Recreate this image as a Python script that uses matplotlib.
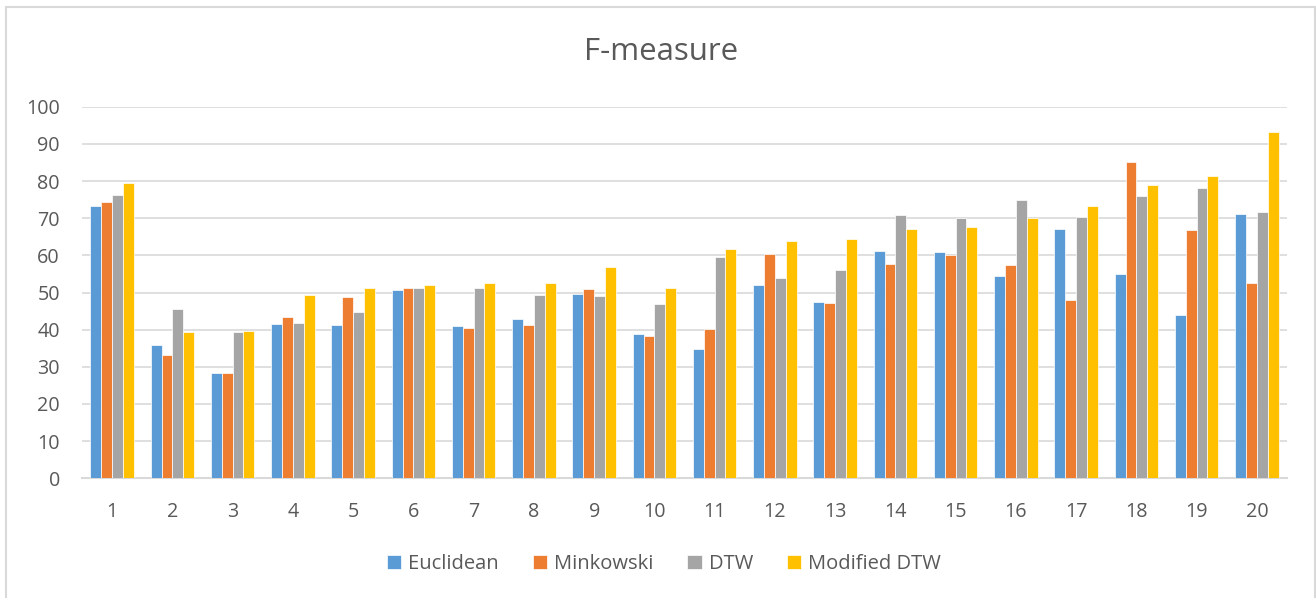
"""F-measure comparison of four distance measures over 20 cases."""

import numpy as np
import matplotlib.pyplot as plt
from matplotlib.patches import Rectangle

plt.rcParams['font.family'] = ['Open Sans', 'DejaVu Sans']

# Data
cases = [str(i) for i in range(1, 21)]
euclidean = [73.3, 35.9, 28.3, 41.4, 41.2, 50.6, 41.0, 42.8, 49.7, 38.7,
             34.8, 51.9, 47.4, 61.1, 61.0, 54.4, 67.1, 55.0, 43.9, 71.0]
minkowski = [74.3, 33.2, 28.3, 43.4, 48.8, 51.1, 40.5, 41.3, 50.9, 38.3,
             40.3, 60.3, 47.2, 57.7, 60.1, 57.5, 48.1, 85.1, 66.7, 52.6]
dtw = [76.2, 45.5, 39.3, 41.7, 44.7, 51.1, 51.1, 49.4, 49.0, 46.8,
       59.5, 53.9, 56.1, 70.9, 70.0, 74.8, 70.4, 76.1, 78.1, 71.7]
modified_dtw = [79.6, 39.4, 39.6, 49.4, 51.1, 52.1, 52.6, 52.6, 56.9, 51.1,
                61.7, 63.8, 64.4, 67.0, 67.6, 70.1, 73.2, 78.9, 81.3, 93.3]
series = {'Euclidean': euclidean, 'Minkowski': minkowski,
          'DTW': dtw, 'Modified DTW': modified_dtw}
colors = ['#5B9BD5', '#ED7D31', '#A5A5A5', '#FFC000']
text_color = '#595959'
grid_color = '#D9D9D9'

fig = plt.figure(figsize=(13.16, 5.98), dpi=100)
ax = fig.add_axes([82 / 1316, 1 - 478.3 / 598, (1287 - 82) / 1316, (478.3 - 106.7) / 598])

# chart border
fig.patches.append(Rectangle((6 / 1316, -0.05), (1315 - 6) / 1316, 1.05 - 7 / 598,
                             transform=fig.transFigure, fill=False,
                             edgecolor=grid_color, linewidth=1.5))

x = np.arange(len(cases))
bar_w = 0.18
for i, (name, vals) in enumerate(series.items()):
    ax.bar(x + (i - 1.5) * bar_w, vals, width=bar_w, color=colors[i],
           edgecolor='white', linewidth=0.5, label=name, zorder=3)

ax.set_xlim(-0.5, len(cases) - 0.5)
ax.set_ylim(0, 100)
ax.set_yticks(range(0, 101, 10))
ax.set_xticks(x)
ax.set_xticklabels(cases)
ax.grid(axis='y', color=grid_color, linewidth=1.2, zorder=0)
for side in ['top', 'right', 'left']:
    ax.spines[side].set_visible(False)
ax.spines['bottom'].set_color(grid_color)
ax.spines['bottom'].set_linewidth(1.5)
ax.tick_params(axis='both', length=0, labelsize=14.2, labelcolor=text_color)
ax.tick_params(axis='x', pad=17)
ax.tick_params(axis='y', pad=16)

fig.text(661 / 1316, 1 - 52 / 598, 'F-measure', ha='center', va='center',
         fontsize=22.5, color=text_color)

leg = fig.legend(loc='center', bbox_to_anchor=(664 / 1316, 1 - 564 / 598), ncol=4,
                 frameon=False, fontsize=14.5, handlelength=0.7, handleheight=0.7,
                 handletextpad=0.35, columnspacing=1.7)
for t in leg.get_texts():
    t.set_color(text_color)

plt.savefig('out.png', dpi=100)
